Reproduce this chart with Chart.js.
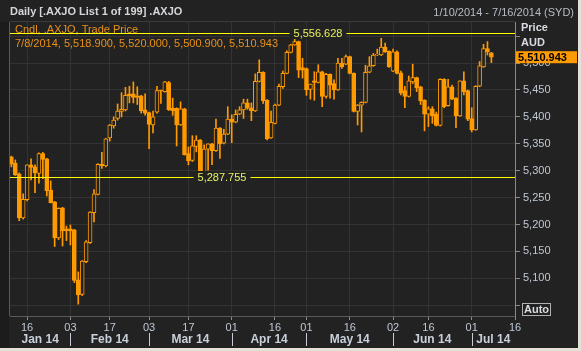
<!DOCTYPE html>
<html>
<head>
<meta charset="utf-8">
<script src="https://cdn.jsdelivr.net/npm/chart.js@4.4.1/dist/chart.umd.min.js"></script>
<style>
  html, body { margin: 0; padding: 0; background: #e4e1d6; }
  #wrap { width: 578px; height: 348px; }
</style>
</head>
<body>
<div id="wrap"><canvas id="c" width="578" height="348"></canvas></div>
<script>
// trading days on the axis, 1/10/2014 - 7/16/2014
var dates = [
  '1/10','1/13','1/14','1/15','1/16','1/17','1/20','1/21','1/22','1/23','1/24','1/28','1/29','1/30','1/31',
  '2/3','2/4','2/5','2/6','2/7','2/10','2/11','2/12','2/13','2/14','2/17','2/18','2/19','2/20','2/21','2/24','2/25','2/26','2/27','2/28',
  '3/3','3/4','3/5','3/6','3/7','3/10','3/11','3/12','3/13','3/14','3/17','3/18','3/19','3/20','3/21','3/24','3/25','3/26','3/27','3/28','3/31',
  '4/1','4/2','4/3','4/4','4/7','4/8','4/9','4/10','4/11','4/14','4/15','4/16','4/17','4/22','4/23','4/24','4/28','4/29','4/30',
  '5/1','5/2','5/5','5/6','5/7','5/8','5/9','5/12','5/13','5/14','5/15','5/16','5/19','5/20','5/21','5/22','5/23','5/26','5/27','5/28','5/29','5/30',
  '6/2','6/3','6/4','6/5','6/6','6/10','6/11','6/12','6/13','6/16','6/17','6/18','6/19','6/20','6/23','6/24','6/25','6/26','6/27','6/30',
  '7/1','7/2','7/3','7/4','7/7','7/8','7/9','7/10','7/11','7/14','7/15','7/16'
];

// daily candles .AXJO (1/10 .. 7/8)
var open = [5326,5314,5294,5212,5246,5311,5307,5295,5332,5322,
  5264,5242,5175,5231,5192,5192,5190,5097,5070,5131,
  5166,5222,5256,5312,5309,5361,5383,5397,5410,5413,
  5443,5443,5439,5439,5413,5408,5385,5409,5449.5,5447,
  5464,5416,5416,5385,5415,5332,5319,5345,5357,5295,
  5340,5350,5337,5379,5351,5368,5396,5390,5405,5413,
  5426,5417,5411,5466,5483,5431,5361,5388,5422,5456,
  5481,5520,5534,5540,5491.5,5490,5451,5467,5464,5484,
  5438,5479,5462,5450,5500,5498,5512,5481,5410,5422,
  5427,5483,5495,5515,5515,5530,5522,5485,5521,5482,
  5449,5438,5465,5473,5456,5431,5405,5415,5405,5384,
  5470,5421,5456,5435,5402,5467,5449,5397,5376,5457,
  5493,5527,5518.9];
var high = [5327,5320,5296,5257,5311,5322,5311,5333,5334,5323,
  5281,5243,5231,5232,5197,5199,5191,5112,5133,5170,
  5224,5265,5313,5334,5360,5386,5400,5424,5445,5455,
  5457,5465,5456,5440,5443,5409,5411,5457,5450,5466,
  5466,5435,5417,5428,5416,5344,5365,5365,5358,5348,
  5350,5351,5396,5380,5377,5419,5404,5413,5419,5433,
  5433,5426,5480,5506,5484,5432,5411,5424,5461,5485,
  5523,5535,5556.628,5541,5509,5491,5461,5484,5497,5485,
  5481,5480,5469,5509,5509,5515,5513,5482,5423,5428,
  5496,5512,5518,5526,5546,5537,5523,5526,5523,5485,
  5457,5476,5498,5474,5457,5432,5419,5419,5409,5471,
  5471,5470,5459,5436,5467,5484,5450,5417,5458,5503,
  5535,5540,5520];
var low = [5307,5291,5207,5210,5244,5283,5259,5277,5285,5253,
  5240,5159,5172,5160,5170,5162,5092,5052,5068,5129,
  5165,5205,5255,5304,5307,5355,5379,5394,5400,5411,
  5426,5426,5423,5407,5403,5341,5370,5407,5425,5446,
  5412,5403,5346,5384,5329,5311,5317,5335,5294,5294,
  5301,5311,5336,5323,5350,5367,5352,5389,5404,5397,
  5414,5393,5410,5465,5425,5357,5360,5387,5421,5453,
  5480,5519,5533,5473,5472,5440,5433,5431,5463,5419,
  5435,5435,5433,5449,5490,5497,5480,5409,5385,5372,
  5426,5482,5494,5514,5514,5520,5492,5484,5480,5441,
  5417,5437,5462,5447,5423,5374,5382,5388,5383,5383,
  5417,5420,5432,5380,5401,5441,5393,5372,5375,5456,
  5492,5515,5500.9];
var close = [5312,5292,5212,5247,5311,5306,5296,5332,5321,5263,
  5240.5,5175,5230,5188,5188,5188,5096,5069,5132,5168,
  5223,5257,5312,5309,5359,5385,5394,5411,5414,5440,
  5439,5436,5436,5411,5407,5386,5400,5449,5448.5,5465,
  5413,5411.5,5385,5415,5330,5318,5346,5357,5295,5340,
  5350,5337,5379,5350,5368,5396,5390,5405,5413,5426,
  5416,5411.5,5466,5483,5430,5359,5390,5422,5457,5481,
  5520,5534,5540,5487,5487,5450,5461,5464,5484,5438,
  5479,5459,5450,5500,5493,5512,5481,5410,5422,5427,
  5483,5495,5515,5516.5,5530,5521,5493,5521,5481,5444,
  5438,5467,5473,5454,5430,5405,5415,5402,5384,5470,
  5419,5456,5433,5402,5467,5447,5396,5376,5457,5495,
  5527,5521,5510.943];

// axis labels
var tickDays = ['1/16','2/3','2/17','3/3','3/17','4/1','4/16','5/1','5/16','6/2','6/16','7/1','7/16'];
var monthNames = ['Jan 14','Feb 14','Mar 14','Apr 14','May 14','Jun 14','Jul 14'];
var yTicks = [5050,5100,5150,5200,5250,5300,5350,5400,5450,5500,5550];
var levels = [5556.628, 5287.755];

var ORANGE = '#ff9a00';
var BG = '#222222';
var FONT = '"Liberation Sans", Arial, sans-serif';

function fmt(v, d) {
  var s = v.toFixed(d || 0).split('.');
  s[0] = s[0].replace(/\B(?=(\d{3})+(?!\d))/g, ',');
  return s.join('.');
}

var wicks = low.map(function(l, i) { return { x: i, y: [l, high[i]] }; });
var bodies = open.map(function(o, i) {
  return { x: i, y: [Math.min(o, close[i]), Math.max(o, close[i])] };
});

// text, level lines and side boxes
var decor = {
  id: 'decor',
  beforeDraw: function(chart) {
    var c = chart.ctx, a = chart.chartArea;
    c.save();
    c.fillStyle = BG;
    c.fillRect(0, 0, chart.width, chart.height);
    c.fillStyle = '#1c1c1c';
    c.fillRect(0, a.top, a.left - 1, chart.height - a.top);
    c.strokeStyle = '#3a3a3a';
    c.lineWidth = 1;
    c.beginPath();
    c.moveTo(a.left, a.top - 0.5); c.lineTo(a.right, a.top - 0.5);
    c.stroke();
    c.strokeStyle = '#5a5a5a';
    c.beginPath();
    c.moveTo(a.left - 0.5, a.top); c.lineTo(a.left - 0.5, a.bottom);
    c.stroke();
    c.restore();
  },
  afterDatasetsDraw: function(chart) {
    var c = chart.ctx, a = chart.chartArea, y = chart.scales.y;
    var last = open.length - 1;
    c.save();
    c.font = '11px ' + FONT;
    c.fillStyle = '#e8901a';
    c.textBaseline = 'middle';
    c.fillText('Cndl, .AXJO, Trade Price', 15, 30);
    c.fillText('7/8/2014, ' + fmt(open[last], 3) + ', ' + fmt(high[last], 3) + ', ' +
      fmt(low[last], 3) + ', ' + fmt(close[last], 3), 15, 44);

    var labelX = [318, 222];
    levels.forEach(function(v, k) {
      var py = Math.round(y.getPixelForValue(v));
      c.fillStyle = '#ffff00';
      c.fillRect(a.left, py, a.right - a.left, 1);
      var t = fmt(v, 3);
      var w = c.measureText(t).width;
      c.fillStyle = BG;
      c.fillRect(labelX[k] - w / 2 - 4, py - 6, w + 8, 12);
      c.fillStyle = '#e6f060';
      c.textAlign = 'center';
      c.fillText(t, labelX[k], py + 1);
      c.textAlign = 'left';
    });
    c.restore();
  },
  afterDraw: function(chart) {
    var c = chart.ctx, a = chart.chartArea, x = chart.scales.x, y = chart.scales.y;
    c.save();
    c.textBaseline = 'middle';
    c.font = 'bold 11px ' + FONT;
    c.fillStyle = '#d6d6da';
    c.fillText('Daily [.AXJO List 1 of 199] .AXJO', 10, 12);
    c.font = '11px ' + FONT;
    c.fillStyle = '#b8bcc4';
    c.textAlign = 'right';
    c.fillText('1/10/2014 - 7/16/2014 (SYD)', 574, 13);
    c.textAlign = 'left';

    c.font = 'bold 11px ' + FONT;
    c.fillStyle = '#d8dce2';
    c.fillText('Price', 521, 28);
    c.fillText('AUD', 521, 43);

    // last price tag
    var last = close[close.length - 1];
    var ty = y.getPixelForValue(last);
    c.fillStyle = ORANGE;
    c.fillRect(516, ty - 6, 61, 12);
    c.fillStyle = '#000';
    c.fillText(fmt(last, 3), 518, ty + 0.5);

    // Auto box
    c.strokeStyle = '#b0b0b0';
    c.strokeRect(522.5, 303.5, 28, 12);
    c.fillStyle = '#d8dce2';
    c.fillText('Auto', 524, 310);

    // month row
    var starts = [];
    for (var i = 1; i < dates.length; i++) {
      if (dates[i].split('/')[0] !== dates[i - 1].split('/')[0]) starts.push(i);
    }
    var edges = [a.left].concat(starts.map(function(s) { return x.getPixelForValue(s); }), [a.right]);
    c.strokeStyle = '#c8ccd4';
    starts.forEach(function(s) {
      var px = Math.round(x.getPixelForValue(s)) + 0.5;
      c.beginPath(); c.moveTo(px, 333); c.lineTo(px, 346); c.stroke();
    });
    c.font = 'bold 12px ' + FONT;
    c.fillStyle = '#c8d0dc';
    c.textAlign = 'center';
    monthNames.forEach(function(m, k) {
      c.fillText(m, (edges[k] + edges[k + 1]) / 2, 340);
    });
    c.restore();
  }
};

new Chart(document.getElementById('c'), {
  type: 'bar',
  data: {
    datasets: [{
      label: 'body',
      data: bodies,
      order: 1,
      barThickness: 4,
      borderWidth: 1,
      borderSkipped: false,
      borderColor: ORANGE,
      backgroundColor: function(ctx) {
        var i = ctx.dataIndex;
        return close[i] > open[i] ? BG : ORANGE;
      }
    }, {
      label: 'wick',
      data: wicks,
      order: 2,
      barThickness: 1,
      backgroundColor: ORANGE
    }]
  },
  options: {
    responsive: false,
    animation: false,
    grouped: false,
    layout: { padding: { left: 10, top: 22, right: 0, bottom: 0 } },
    plugins: { legend: { display: false }, tooltip: { enabled: false } },
    scales: {
      x: {
        type: 'linear',
        min: -0.35,
        max: dates.length - 1,
        offset: false,
        afterBuildTicks: function(s) {
          s.ticks = tickDays.map(function(d) { return { value: dates.indexOf(d) }; });
        },
        afterFit: function(s) { s.height = 32; },
        grid: { offset: false, color: '#333333', tickColor: '#8a8a8a', tickLength: 4 },
        border: { color: '#5a5a5a' },
        ticks: {
          autoSkip: false,
          maxRotation: 0,
          padding: 1,
          color: '#c0c8d4',
          font: { family: FONT, size: 11 },
          callback: function(v) {
            var d = dates[v].split('/')[1];
            return d.length < 2 ? '0' + d : d;
          }
        }
      },
      y: {
        position: 'right',
        min: 5029.9,
        max: 5576.4,
        afterBuildTicks: function(s) {
          s.ticks = yTicks.map(function(v) { return { value: v }; });
        },
        afterFit: function(s) { s.width = 63; },
        grid: { color: '#333333', tickColor: '#8a8a8a', tickLength: 5 },
        border: { color: '#8a8a8a' },
        ticks: {
          padding: 3,
          color: '#c0c8d4',
          font: { family: FONT, size: 11 },
          callback: function(v) {
            return (v === yTicks[0] || v === yTicks[yTicks.length - 1]) ? '' : fmt(v);
          }
        }
      }
    }
  },
  plugins: [decor]
});
</script>
</body>
</html>
